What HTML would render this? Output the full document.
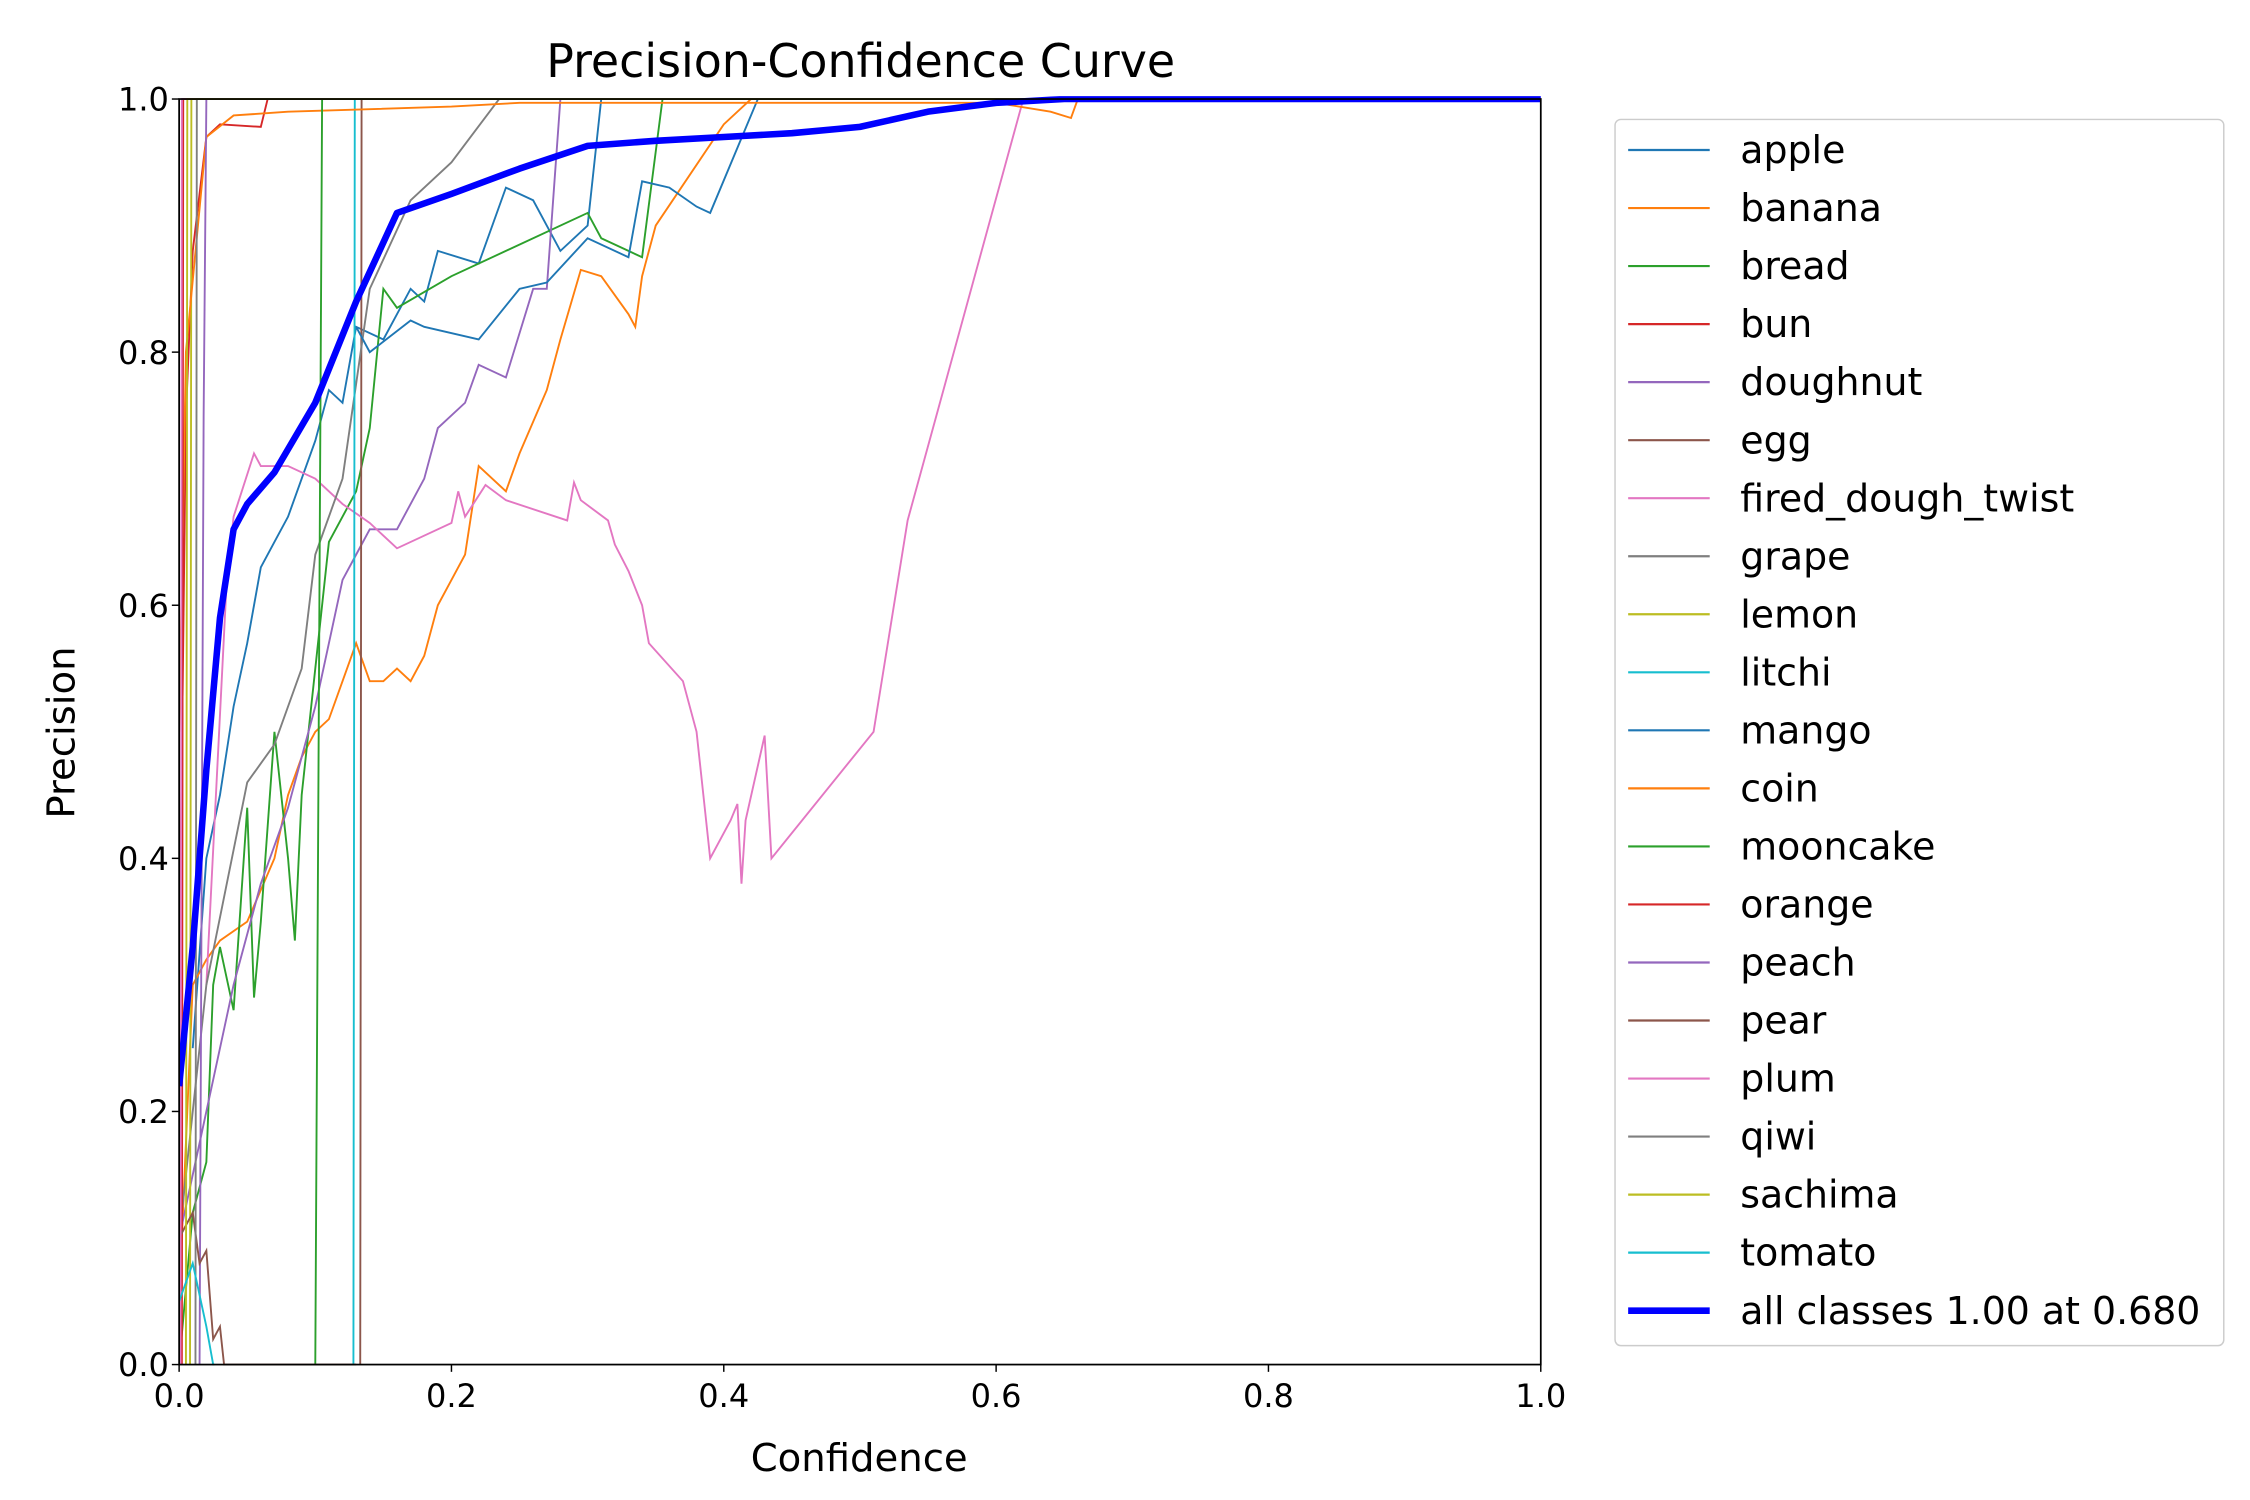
<!DOCTYPE html>
<html><head><meta charset="utf-8"><style>body{margin:0;background:#fff}svg{display:block}text{font-family:"DejaVu Sans","Liberation Sans",sans-serif}</style></head>
<body>
<svg id="chart" width="2250" height="1500" viewBox="0 0 1545 1030" xmlns="http://www.w3.org/2000/svg">
<rect width="1545" height="1030" fill="#fff"/>
<text x="591" y="53" font-size="31.5" text-anchor="middle">Precision-Confidence Curve</text>
<defs><clipPath id="pc"><rect x="123" y="66" width="936" height="872"/></clipPath></defs>
<g id="series" clip-path="url(#pc)"></g>
<rect x="123" y="68" width="935" height="869" fill="none" stroke="#000" stroke-width="1.2"/>
<g id="axes"></g>
<text x="590" y="1010" font-size="26.5" text-anchor="middle">Confidence</text>
<text transform="translate(51,503) rotate(-90)" font-size="26.5" text-anchor="middle">Precision</text>
<g id="legend"></g>
</svg>
<script>
const xTicks=[0,0.2,0.4,0.6,0.8,1.0];
const yTicks=[0,0.2,0.4,0.6,0.8,1.0];
const tickLabels=["0.0","0.2","0.4","0.6","0.8","1.0"];
const names=["apple","banana","bread","bun","doughnut","egg","fired_dough_twist","grape","lemon","litchi","mango","coin","mooncake","orange","peach","pear","plum","qiwi","sachima","tomato"];
const colors=["#1f77b4","#ff7f0e","#2ca02c","#d62728","#9467bd","#8c564b","#e377c2","#7f7f7f","#bcbd22","#17becf","#1f77b4","#ff7f0e","#2ca02c","#d62728","#9467bd","#8c564b","#e377c2","#7f7f7f","#bcbd22","#17becf"];
const apple=[[0.01,0.25],[0.02,0.4],[0.03,0.45],[0.04,0.52],[0.05,0.57],[0.06,0.63],[0.07,0.65],[0.08,0.67],[0.09,0.7],[0.1,0.73],[0.11,0.77],[0.12,0.76],[0.13,0.82],[0.15,0.81],[0.17,0.85],[0.18,0.84],[0.19,0.88],[0.22,0.87],[0.24,0.93],[0.26,0.92],[0.28,0.88],[0.3,0.9],[0.31,1.0],[1,1]];
const banana=[[0,0.05],[0.01,0.3],[0.02,0.32],[0.03,0.335],[0.05,0.35],[0.07,0.4],[0.08,0.45],[0.09,0.48],[0.1,0.5],[0.11,0.51],[0.12,0.54],[0.13,0.57],[0.14,0.54],[0.15,0.54],[0.16,0.55],[0.17,0.54],[0.18,0.56],[0.19,0.6],[0.2,0.62],[0.21,0.64],[0.22,0.71],[0.23,0.7],[0.24,0.69],[0.25,0.72],[0.27,0.77],[0.28,0.81],[0.295,0.865],[0.31,0.86],[0.33,0.83],[0.335,0.82],[0.34,0.86],[0.35,0.9],[0.4,0.98],[0.42,1.0],[1,1]];
const bread=[[0,0],[0.01,0.12],[0.02,0.16],[0.025,0.3],[0.03,0.33],[0.04,0.28],[0.05,0.44],[0.055,0.29],[0.06,0.35],[0.07,0.5],[0.08,0.4],[0.085,0.335],[0.09,0.45],[0.1,0.55],[0.11,0.65],[0.13,0.69],[0.14,0.74],[0.15,0.85],[0.16,0.835],[0.2,0.86],[0.3,0.91],[0.31,0.89],[0.33,0.88],[0.34,0.875],[0.355,1.0],[1,1]];
const bun=[[0,0.3],[0.005,0.75],[0.01,0.88],[0.02,0.97],[0.03,0.98],[0.06,0.978],[0.065,1.0],[1,1]];
const doughnut=[[0,0.1],[0.02,0.2],[0.04,0.3],[0.06,0.38],[0.08,0.44],[0.1,0.52],[0.11,0.57],[0.12,0.62],[0.13,0.64],[0.14,0.66],[0.16,0.66],[0.18,0.7],[0.19,0.74],[0.21,0.76],[0.22,0.79],[0.24,0.78],[0.26,0.85],[0.27,0.85],[0.28,1.0],[1,1]];
const egg=[[0.133,0],[0.134,1.0],[1,1]];
const firedDough=[[0.02,0.3],[0.035,0.62],[0.04,0.67],[0.055,0.72],[0.06,0.71],[0.08,0.71],[0.1,0.7],[0.12,0.68],[0.14,0.665],[0.16,0.645],[0.2,0.665],[0.205,0.69],[0.21,0.67],[0.225,0.695],[0.24,0.683],[0.285,0.667],[0.29,0.697],[0.295,0.683],[0.315,0.667],[0.32,0.648],[0.33,0.627],[0.34,0.6],[0.345,0.57],[0.37,0.54],[0.38,0.5],[0.385,0.45],[0.39,0.4],[0.405,0.43],[0.41,0.443],[0.413,0.38],[0.416,0.43],[0.43,0.497],[0.435,0.4],[0.51,0.5],[0.535,0.667],[0.62,1.0],[1,1]];
const grape=[[0,0.1],[0.02,0.3],[0.05,0.46],[0.07,0.49],[0.09,0.55],[0.1,0.64],[0.12,0.7],[0.14,0.85],[0.17,0.92],[0.2,0.95],[0.235,1.0],[1,1]];
const lemon=[[0.008,0],[0.009,1.0],[1,1]];
const litchi=[[0.128,0],[0.129,1.0],[1,1]];
const mango=[[0.13,0.82],[0.14,0.8],[0.17,0.825],[0.18,0.82],[0.22,0.81],[0.25,0.85],[0.27,0.855],[0.3,0.89],[0.33,0.875],[0.34,0.935],[0.36,0.93],[0.38,0.915],[0.39,0.91],[0.425,1.0],[1,1]];
const coin=[[0,0.5],[0.005,0.8],[0.02,0.97],[0.04,0.987],[0.08,0.99],[0.2,0.994],[0.25,0.997],[0.6,0.997],[0.64,0.99],[0.655,0.985],[0.66,1.0],[1,1]];
const mooncake=[[0.1,0],[0.103,0.6],[0.105,1.0],[1,1]];
const orange=[[0.002,0],[0.003,1.0],[1,1]];
const peach=[[0.015,0],[0.018,0.75],[0.02,1.0],[1,1]];
const pear=[[0,0.1],[0.01,0.12],[0.015,0.08],[0.02,0.09],[0.025,0.02],[0.03,0.03],[0.033,0],[0.13,0]];
const plum=[[0.001,0],[0.002,1.0],[1,1]];
const qiwi=[[0.012,0],[0.013,1.0],[1,1]];
const sachima=[[0.005,0],[0.006,1.0],[1,1]];
const tomato=[[0,0.05],[0.01,0.08],[0.02,0.03],[0.025,0],[0.026,0]];
const allClasses=[[0,0.22],[0.01,0.33],[0.02,0.47],[0.03,0.59],[0.04,0.66],[0.05,0.68],[0.07,0.705],[0.1,0.76],[0.13,0.84],[0.16,0.91],[0.2,0.925],[0.25,0.945],[0.3,0.963],[0.35,0.967],[0.4,0.97],[0.45,0.973],[0.5,0.978],[0.55,0.99],[0.6,0.997],[0.65,1.0],[1,1]];
const seriesData=[apple,banana,bread,bun,doughnut,egg,firedDough,grape,lemon,litchi,mango,coin,mooncake,orange,peach,pear,plum,qiwi,sachima,tomato];

const NS="http://www.w3.org/2000/svg";
const X0=123,X1=1058,Y0=937,Y1=68;
function xs(v){return X0+v*(X1-X0);}
function ys(v){return Y0-v*(Y0-Y1);}
function mk(t,a,p){const e=document.createElementNS(NS,t);for(const k in a)e.setAttribute(k,a[k]);p.appendChild(e);return e;}
const axes=document.getElementById('axes');
xTicks.forEach((v,i)=>{
  const l=mk('line',{x1:xs(v),x2:xs(v),y1:Y0,y2:Y0+5,stroke:'#000','stroke-width':1},axes);
  
  
  const t=mk('text',{x:xs(v),y:Y0+29,'font-size':22,'text-anchor':'middle'},axes);
  t.textContent=tickLabels[i];
  
  
});
yTicks.forEach((v,i)=>{
  const l=mk('line',{x1:X0-5,x2:X0,y1:ys(v),y2:ys(v),stroke:'#000','stroke-width':1},axes);
  
  
  const t=mk('text',{x:X0-7,y:ys(v)+8,'font-size':22,'text-anchor':'end'},axes);
  t.textContent=tickLabels[i];
  
  
});
const sg=document.getElementById('series');
function pts(d){return d.map(p=>xs(p[0]).toFixed(2)+','+ys(p[1]).toFixed(2)).join(' ');}
seriesData.forEach((d,i)=>{
  const p=mk('polyline',{points:pts(d),fill:'none',stroke:colors[i],'stroke-width':1.3},sg);
  
  
});
const ac=mk('polyline',{points:pts(allClasses),fill:'none',stroke:'#0000ff','stroke-width':4.5,'stroke-linejoin':'round'},sg);


const lg=document.getElementById('legend');
mk('rect',{x:1109,y:82,width:418,height:842,rx:4,fill:'#fff',stroke:'#ccc','stroke-width':1},lg);
const labels=names.concat(["all classes 1.00 at 0.680"]);
labels.forEach((n,i)=>{
  const y=103+i*39.85;
  const isAll=i===20;
  const l=mk('line',{x1:1118,x2:1174,y1:y,y2:y,stroke:isAll?'#0000ff':colors[i],'stroke-width':isAll?4.5:1.5},lg);
  
  
  const t=mk('text',{x:1195,y:y+9,'font-size':26},lg);
  t.textContent=n;
  
  
});
</script>
</body></html>
